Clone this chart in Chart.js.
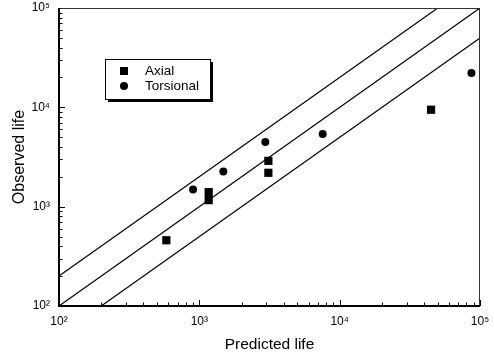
<!DOCTYPE html>
<html>
<head>
<meta charset="utf-8">
<script src="https://cdn.jsdelivr.net/npm/chart.js@4/dist/chart.umd.min.js"></script>
<style>
  html, body { margin: 0; padding: 0; background: #fff; }
  #wrap { width: 494px; height: 359px; }
</style>
</head>
<body>
<div id="wrap"><canvas id="myChart" width="494" height="359"></canvas></div>
<script>
// data
const axialPredicted = [582, 1166, 1166, 3104, 3104, 44800];
const axialObserved = [459, 1400, 1164, 2893, 2193, 9460];
const torsionalPredicted = [902, 1483, 2952, 7570, 86900];
const torsionalObserved = [1493, 2260, 4487, 5396, 22100];

// factor-of-two scatter band lines (end points)
const upperLineX = [100, 50000];
const upperLineY = [200, 100000];
const middleLineX = [100, 100000];
const middleLineY = [100, 100000];
const lowerLineX = [200, 100000];
const lowerLineY = [100, 50000];

const decadeTicks = [100, 1000, 10000, 100000];
const tickLabels = ['10²', '10³', '10⁴', '10⁵'];

const seriesNames = ['Axial', 'Torsional'];

function toPoints(xs, ys) {
  return xs.map((x, i) => ({x: x, y: ys[i]}));
}

function bandLine(xs, ys) {
  return {
    type: 'line',
    data: toPoints(xs, ys),
    borderColor: '#000',
    borderWidth: 1.2,
    pointRadius: 0,
    fill: false
  };
}

// inner minor/major ticks, frame and the boxed legend
const frameAndTicks = {
  id: 'frameAndTicks',
  afterDatasetsDraw(chart) {
    const c = chart.ctx;
    const a = chart.chartArea;
    const xs = chart.scales.x, ys = chart.scales.y;
    c.save();
    c.strokeStyle = '#000';
    c.lineWidth = 1;
    for (let d = 100; d < 100000; d *= 10) {
      for (let m = 1; m <= 10; m++) {
        const v = d * m;
        const len = (m === 1 || m === 10) ? 6 : 3.5;
        const px = Math.round(xs.getPixelForValue(v)) + 0.5;
        c.beginPath(); c.moveTo(px, a.bottom); c.lineTo(px, a.bottom - len); c.stroke();
        const py = Math.round(ys.getPixelForValue(v)) + 0.5;
        c.beginPath(); c.moveTo(a.left, py); c.lineTo(a.left + len, py); c.stroke();
      }
    }
    // top / right border (lighter, as in the scan)
    c.strokeStyle = '#333';
    c.lineWidth = 1;
    c.beginPath();
    c.moveTo(a.left, a.top + 0.5); c.lineTo(a.right - 0.5, a.top + 0.5); c.lineTo(a.right - 0.5, a.bottom);
    c.stroke();
    // left / bottom axes
    c.strokeStyle = '#000';
    c.lineWidth = 2;
    c.beginPath();
    c.moveTo(a.left, a.top); c.lineTo(a.left, a.bottom); c.lineTo(a.right, a.bottom);
    c.stroke();

    // legend box with drop shadow
    const bx = 105, by = 59, bw = 105, bh = 40;
    c.fillStyle = '#000';
    c.fillRect(bx + 3, by + 3, bw, bh);
    c.fillStyle = '#fff';
    c.fillRect(bx, by, bw, bh);
    c.lineWidth = 1;
    c.strokeRect(bx + 0.5, by + 0.5, bw, bh);
    c.fillStyle = '#000';
    c.fillRect(124 - 4, 71 - 4, 8, 8);
    c.beginPath(); c.arc(124, 86, 4, 0, Math.PI * 2); c.fill();
    c.font = '13.5px "Liberation Sans", Arial, sans-serif';
    c.textBaseline = 'middle';
    c.textAlign = 'left';
    c.fillText(seriesNames[0], 145, 71);
    c.fillText(seriesNames[1], 145, 86);
    c.restore();
  }
};

const ctx = document.getElementById('myChart');

const myChart = new Chart(ctx, {
  type: 'scatter',
  data: {
    datasets: [
      bandLine(upperLineX, upperLineY),
      bandLine(middleLineX, middleLineY),
      bandLine(lowerLineX, lowerLineY),
      {
        label: seriesNames[0],
        data: toPoints(axialPredicted, axialObserved),
        pointStyle: 'rect',
        pointRadius: 5.8,
        backgroundColor: '#000',
        borderColor: '#000',
        borderWidth: 0
      },
      {
        label: seriesNames[1],
        data: toPoints(torsionalPredicted, torsionalObserved),
        pointStyle: 'circle',
        pointRadius: 4,
        backgroundColor: '#000',
        borderColor: '#000',
        borderWidth: 0
      }
    ]
  },
  options: {
    responsive: false,
    animation: false,
    devicePixelRatio: 1,
    layout: { padding: { top: 8, right: 14, left: 0, bottom: 0 } },
    plugins: {
      legend: { display: false },
      tooltip: { enabled: false }
    },
    scales: {
      x: {
        type: 'logarithmic',
        min: 100,
        max: 100000,
        afterBuildTicks(scale) { scale.ticks = decadeTicks.map(v => ({value: v})); },
        afterFit(scale) {
          scale.height = 53;
          scale.paddingLeft = 0;
          scale.paddingRight = 0;
        },
        grid: { display: false, drawTicks: false },
        border: { display: false },
        ticks: {
          color: '#000',
          padding: 8,
          maxRotation: 0,
          font: { family: '"Liberation Sans", Arial, sans-serif', size: 12 },
          callback: (v) => tickLabels[decadeTicks.indexOf(v)] || ''
        },
        title: {
          display: true,
          text: 'Predicted life',
          color: '#000',
          font: { family: '"Liberation Sans", Arial, sans-serif', size: 15.5 },
          padding: { top: 0, bottom: 5 }
        }
      },
      y: {
        type: 'logarithmic',
        min: 100,
        max: 100000,
        afterBuildTicks(scale) { scale.ticks = decadeTicks.map(v => ({value: v})); },
        afterFit(scale) {
          scale.width = 59;
          scale.paddingTop = 0;
          scale.paddingBottom = 0;
        },
        grid: { display: false, drawTicks: false },
        border: { display: false },
        ticks: {
          color: '#000',
          padding: 9,
          font: { family: '"Liberation Sans", Arial, sans-serif', size: 12 },
          callback: (v) => tickLabels[decadeTicks.indexOf(v)] || ''
        },
        title: {
          display: true,
          text: 'Observed life',
          color: '#000',
          font: { family: '"Liberation Sans", Arial, sans-serif', size: 16 },
          padding: { top: 10, bottom: 0 }
        }
      }
    }
  },
  plugins: [frameAndTicks]
});
</script>
</body>
</html>
